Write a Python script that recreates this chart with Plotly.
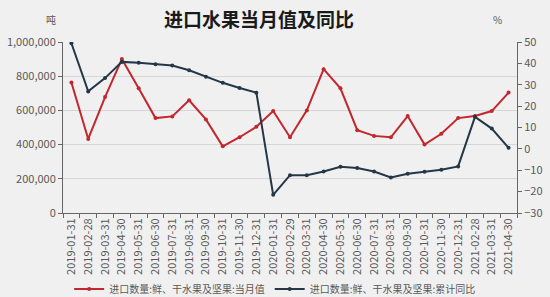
import plotly.graph_objects as go

dates = ["2019-01-31","2019-02-28","2019-03-31","2019-04-30","2019-05-31","2019-06-30",
         "2019-07-31","2019-08-31","2019-09-30","2019-10-31","2019-11-30","2019-12-31",
         "2020-01-31","2020-02-29","2020-03-31","2020-04-30","2020-05-31","2020-06-30",
         "2020-07-31","2020-08-31","2020-09-30","2020-10-31","2020-11-30","2020-12-31",
         "2021-02-28","2021-03-31","2021-04-30"]
monthly = [763000, 433000, 678000, 900000, 729000, 555000, 565000, 659000, 547000,
           390000, 443000, 504000, 596000, 443000, 600000, 841000, 729000, 484000,
           451000, 443000, 567000, 400000, 463000, 555000, 567000, 596000, 704000]
yoy = [49.4, 26.9, 33.1, 40.7, 40.3, 39.6, 39.0, 36.8, 33.7, 30.9, 28.5, 26.3,
       -21.5, -12.3, -12.3, -10.6, -8.4, -9.0, -10.6, -13.4, -11.6, -10.7, -9.8, -8.2,
       15.0, 9.5, 0.5]

name1 = "进口数量:鲜、干水果及坚果:当月值"
name2 = "进口数量:鲜、干水果及坚果:累计同比"
red = "#c1272d"
dark = "#253746"
font = "Noto Sans CJK SC"
tick_col = "#595959"

fig = go.Figure()
fig.add_trace(go.Scatter(x=dates, y=monthly, name=name1, mode="lines+markers",
                         line=dict(color=red, width=2), marker=dict(size=4, color=red)))
fig.add_trace(go.Scatter(x=dates, y=yoy, name=name2, mode="lines+markers", yaxis="y2",
                         line=dict(color=dark, width=2), marker=dict(size=4, color=dark)))

fig.update_layout(
    width=550, height=297,
    margin=dict(l=63, r=33, t=42, b=84, autoexpand=False),
    paper_bgcolor="#f0f0f0", plot_bgcolor="#f0f0f0",
    font=dict(family=font, size=11, color=tick_col),
    title=dict(text="<b>进口水果当月值及同比</b>", x=259/550, xanchor="center",
               y=1-20/297, yanchor="middle", font=dict(size=19, color="#1a1a1a", family=font)),
    showlegend=True,
    legend=dict(orientation="h", x=257/550, xanchor="center", y=8/297, yanchor="middle",
                yref="container", font=dict(size=10, color=tick_col), itemwidth=30,
                bgcolor="rgba(0,0,0,0)"),
    xaxis=dict(type="category", tickangle=-90, tickfont=dict(size=11, color=tick_col),
               showline=True, linecolor="#666666", linewidth=1, ticks="outside",
               tickson="boundaries", ticklen=4, tickcolor="#666666", showgrid=False,
               range=[-0.5, len(dates)-0.5], automargin=False),
    yaxis=dict(range=[0, 1000000], dtick=200000, tickformat=",", showline=True,
               linecolor="#666666", linewidth=1, ticks="outside", ticklen=4,
               tickcolor="#666666", showgrid=True, gridcolor="#d6d6d6", gridwidth=1,
               zeroline=False, tickfont=dict(size=11, color=tick_col), automargin=False),
    yaxis2=dict(range=[-30, 50], dtick=10, overlaying="y", side="right", showline=True,
                linecolor="#666666", linewidth=1, ticks="outside", ticklen=4,
                tickcolor="#666666", showgrid=False, zeroline=False,
                tickfont=dict(size=11, color=tick_col), automargin=False),
    annotations=[
        dict(text="吨", xref="paper", yref="paper", x=-0.01, y=1+22/171, xanchor="right",
             yanchor="middle", showarrow=False, font=dict(size=10, color=tick_col)),
        dict(text="%", xref="paper", yref="paper", x=(497-63)/454, y=1+22/171,
             xanchor="center", yanchor="middle", showarrow=False,
             font=dict(size=10, color=tick_col)),
    ],
)

fig.write_html("out.html")
